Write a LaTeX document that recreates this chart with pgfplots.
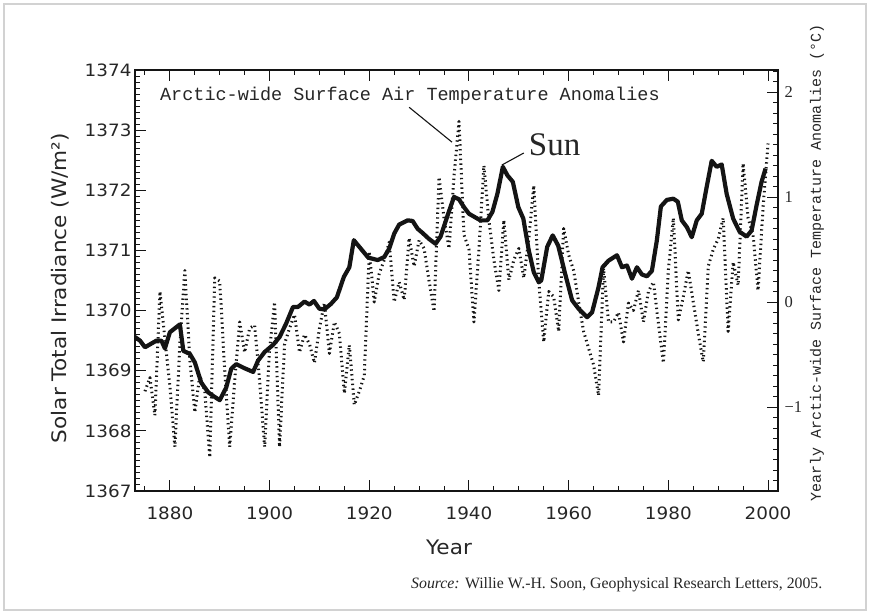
\documentclass[border=0pt]{standalone}
\usepackage{fontspec}
\usepackage{pgfplots}
\pgfplotsset{compat=1.18}
\setmainfont{Liberation Serif}
\newfontfamily\hfont[FakeStretch=1.08]{DejaVu Sans}
\newfontfamily\monofont{Liberation Mono}
\newfontfamily\serifont{Liberation Serif}
\definecolor{ink}{HTML}{141414}
\definecolor{txt}{HTML}{262626}

\pgfplotstableread{
year tsi
1873 1369.56
1874 1369.50
1875 1369.39
1877.3 1369.50
1878.3 1369.50
1879 1369.37
1880 1369.64
1882 1369.77
1882.7 1369.33
1884 1369.28
1885 1369.14
1886.3 1368.80
1887.7 1368.64
1888.7 1368.58
1890 1368.51
1891.3 1368.72
1892.3 1369.03
1893.3 1369.11
1895 1369.04
1896.7 1368.98
1897.7 1369.17
1899 1369.31
1900.7 1369.43
1902 1369.56
1903.3 1369.78
1904.7 1370.06
1905.7 1370.06
1907 1370.15
1908 1370.10
1908.9 1370.16
1910 1370.03
1911 1370.02
1912.3 1370.11
1913.5 1370.22
1914.9 1370.56
1916 1370.72
1916.9 1371.17
1918.3 1371.03
1919.8 1370.88
1921.7 1370.84
1923 1370.89
1924 1371.03
1925 1371.28
1926 1371.43
1927.7 1371.50
1928.7 1371.49
1929.7 1371.36
1930.7 1371.29
1932 1371.19
1933.3 1371.11
1934.3 1371.23
1935.7 1371.58
1937 1371.89
1938 1371.85
1939 1371.72
1940 1371.61
1942.3 1371.50
1943.7 1371.50
1944.7 1371.64
1945.7 1371.94
1946.8 1372.39
1947.7 1372.25
1948.8 1372.14
1949.9 1371.72
1950.9 1371.53
1952 1371.00
1953 1370.64
1954 1370.47
1954.5 1370.50
1955.7 1371.06
1956.8 1371.25
1957.9 1371.08
1959.3 1370.61
1960.7 1370.17
1962 1370.03
1963.7 1369.89
1964.7 1369.97
1966 1370.39
1966.8 1370.72
1968 1370.83
1969.7 1370.92
1970.7 1370.72
1971.7 1370.75
1972.7 1370.53
1973.7 1370.72
1974.7 1370.60
1975.7 1370.57
1976.7 1370.66
1977.7 1371.17
1978.5 1371.73
1979.7 1371.84
1981 1371.86
1981.9 1371.81
1982.7 1371.50
1983.7 1371.39
1984.7 1371.22
1985.7 1371.50
1986.7 1371.61
1987.7 1372.06
1988.7 1372.49
1989.7 1372.39
1990.7 1372.43
1991.7 1371.94
1993 1371.53
1994.3 1371.31
1995.7 1371.23
1996.7 1371.33
1997.7 1371.75
1998.7 1372.14
1999.5 1372.36
}\suntable

\pgfplotstableread{
year temp
1875 -0.85
1876 -0.72
1877 -1.08
1878 0.10
1879 -0.35
1880 -0.80
1881 -1.38
1882 -0.40
1883 0.30
1884 -0.55
1885 -1.05
1886 -0.70
1887 -0.85
1888 -1.48
1889 0.23
1890 0.20
1891 -0.65
1892 -1.38
1893 -0.75
1894 -0.19
1895 -0.48
1896 -0.25
1897 -0.22
1898 -0.75
1899 -1.38
1900 -0.45
1901 0.00
1902 -1.38
1903 -0.40
1904 -0.25
1905 -0.12
1906 -0.48
1907 -0.31
1908 -0.40
1909 -0.58
1910 -0.25
1911 -0.01
1912 -0.49
1913 -0.19
1914 -0.30
1915 -0.87
1916 -0.41
1917 -0.98
1918 -0.85
1919 -0.70
1920 0.48
1921 0.00
1922 0.27
1923 0.40
1924 0.57
1925 0.00
1926 0.19
1927 0.02
1928 0.61
1929 0.34
1930 0.59
1931 0.51
1932 0.20
1933 -0.09
1934 1.19
1935 0.80
1936 0.51
1937 1.20
1938 1.72
1939 0.64
1940 0.50
1941 -0.19
1942 0.50
1943 1.30
1944 0.78
1945 0.40
1946 0.11
1947 0.78
1948 0.21
1949 0.40
1950 0.51
1951 0.23
1952 0.60
1953 1.11
1954 0.20
1955 -0.38
1956 0.10
1957 0.05
1958 -0.28
1959 0.70
1960 0.45
1961 0.30
1962 0.00
1963 -0.28
1964 -0.44
1965 -0.60
1966 -0.89
1967 0.32
1968 -0.19
1969 -0.19
1970 -0.10
1971 -0.38
1972 -0.01
1973 -0.08
1974 0.11
1975 -0.19
1976 0.10
1977 0.19
1978 -0.20
1979 -0.58
1980 0.30
1981 0.80
1982 -0.17
1983 0.05
1984 0.30
1985 0.00
1986 -0.30
1987 -0.57
1988 0.34
1989 0.50
1990 0.60
1991 0.80
1992 -0.28
1993 0.38
1994 0.16
1995 1.32
1996 0.80
1997 0.64
1998 0.11
1999 0.90
2000 1.51
}\temptable

\begin{document}
\begin{tikzpicture}
\path[use as bounding box] (-135pt,-123pt) rectangle (735pt,491pt);
\draw[gray!35, line width=1.5pt] (-131pt,-119pt) rectangle (731pt,487pt);

% right axis: temperature anomalies
\begin{axis}[
  at={(0pt,0pt)}, anchor=south west,
  scale only axis, width=643pt, height=421pt,
  xmin=1873, xmax=2002, ymin=-1.80, ymax=2.21,
  axis x line=none, axis y line*=right,
  ytick={-1,0,1,2}, yticklabels={−1,0,1,2},
  minor ytick={-1.7,-1.6,...,2.25},
  tick align=inside,
  major tick length=11pt, minor tick length=5.5pt,
  axis line style={ink, line width=1.1pt},
  every tick/.style={ink, line width=1pt},
  yticklabel style={font=\fontsize{16.5}{18}\serifont, text=txt, xshift=3pt},
]
\addplot[ink, line width=3pt, line join=round, line cap=butt, dash pattern=on 1.4pt off 3.4pt] table[x=year, y=temp] {\temptable};
\end{axis}

% left axis: solar irradiance
\begin{axis}[
  at={(0pt,0pt)}, anchor=south west,
  scale only axis, width=643pt, height=421pt,
  xmin=1873, xmax=2002, ymin=1367, ymax=1374,
  xtick={1880,1900,1920,1940,1960,1980,2000},
  xticklabels={1880,1900,1920,1940,1960,1980,2000},
  minor xtick={1875,1880,...,2000},
  ytick={1367,1368,1369,1370,1371,1372,1373,1374},
  yticklabels={1367,1368,1369,1370,1371,1372,1373,1374},
  minor y tick num=9,
  ytick pos=left, xtick pos=both,
  tick align=inside,
  major tick length=11pt, minor tick length=5.5pt,
  axis line style={ink, line width=1.1pt},
  every tick/.style={ink, line width=1pt},
  tick label style={font=\fontsize{17}{18}\hfont, text=txt},
  xticklabel style={yshift=-12pt},
]
\addplot[ink, line width=4.2pt, line join=round] table[x=year, y=tsi] {\suntable};
\draw[ink, line width=1.1pt] (axis cs:1928,1373.38) -- (axis cs:1936.6,1372.8);
\draw[ink, line width=1.1pt] (axis cs:1951,1372.62) -- (axis cs:1946.6,1372.42);
\node[anchor=west, inner sep=0pt, text=txt, font=\fontsize{18.5}{20}\monofont] at (axis cs:1878,1373.58) {Arctic-wide Surface Air Temperature Anomalies};
\node[anchor=west, inner sep=0pt, text=txt, font=\fontsize{33}{36}\serifont] at (axis cs:1952,1372.75) {Sun};
\end{axis}

\node[text=txt, font=\fontsize{20}{22}\hfont] at (314pt,-56pt) {Year};
\node[rotate=90, text=txt, font=\fontsize{20}{22}\hfont] at (-75pt,203pt) {Solar Total Irradiance (W/m²)};
\node[rotate=90, text=txt, font=\fontsize{15}{17}\monofont] at (682pt,228pt) {Yearly Arctic-wide Surface Temperature Anomalies (°C)};
\node[anchor=west, inner sep=0pt, text=txt, font=\fontsize{15.8}{17}\serifont] at (276pt,-94pt) {\textit{Source:} Willie W.-H. Soon, Geophysical Research Letters, 2005.};
\end{tikzpicture}
\end{document}
